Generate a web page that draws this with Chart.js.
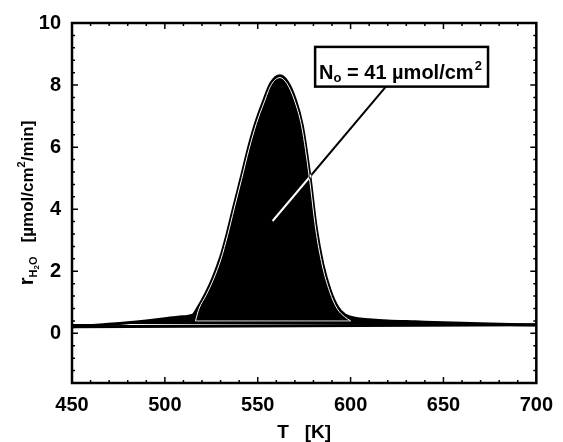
<!DOCTYPE html>
<html>
<head>
<meta charset="utf-8">
<script src="https://cdn.jsdelivr.net/npm/chart.js@4"></script>
<style>
body{margin:0;background:#fff;}
canvas{display:block;}
</style>
</head>
<body>
<canvas id="tpdChart" width="563" height="442"></canvas>
<script>
// measured water formation rate (outer black curve)
const temps = [450, 465, 480, 490, 500, 508, 515, 518, 522, 526, 530, 533.5, 537, 541, 545, 549, 553, 557, 562, 566, 570, 574, 578, 581.5, 585, 589, 593, 597, 603, 610, 620, 635, 650, 675, 700];
const rate = [0.21, 0.27, 0.34, 0.40, 0.47, 0.53, 0.59, 0.85, 1.28, 1.8, 2.45, 3.2, 4.05, 5.0, 5.97, 6.8, 7.46, 8.05, 8.3, 8.1, 7.57, 6.7, 5.1, 3.4, 2.24, 1.39, 0.85, 0.59, 0.48, 0.44, 0.4, 0.37, 0.34, 0.3, 0.27];

// fitted curve (thin white line just inside the peak outline)
const fitTemps = [516.5, 518.3, 522.3, 526.3, 530.3, 533.8, 537.3, 541.3, 545.3, 549.3, 553.3, 557.3, 562, 565.7, 569.7, 573.7, 577.7, 581.2, 584.7, 588.7, 592.7, 596.7, 600];
const fitRate = [0.4, 0.78, 1.24, 1.76, 2.41, 3.16, 4.01, 4.96, 5.93, 6.76, 7.42, 8.01, 8.24, 8.05, 7.52, 6.65, 5.06, 3.36, 2.2, 1.35, 0.8, 0.54, 0.4];
const fitBaseTemps = [516.5, 600];
const fitBaseRate = [0.4, 0.4];

// background line
const baseTemps = [450, 700];
const baseRate = [0.21, 0.28];

const xTicks = [450, 500, 550, 600, 650, 700];
const yTicks = [0, 2, 4, 6, 8, 10];

// annotation
const noteText = "41 \u00b5mol/cm";
const noteBox = {x1: 580.9, x2: 674, y1: 9.23, y2: 7.95};
const noteLine = {x1: 619, y1: 7.95, x2: 558, y2: 3.62};

function pts(xs, ys){
return xs.map((x,i) => ({x:x, y:ys[i]}));
}

const FONT = "'Liberation Sans', Arial, sans-serif";

const whiteBg = {
id:"whiteBg",
beforeDraw(chart){
const ctx = chart.ctx;
ctx.save();
ctx.fillStyle = "#fff";
ctx.fillRect(0,0,chart.width,chart.height);
ctx.restore();
}
};

const framePlugin = {
id:"frame",
afterDraw(chart){
const ctx = chart.ctx;
const a = chart.chartArea;
const xs = chart.scales.x;
const ys = chart.scales.y;

ctx.save();
ctx.strokeStyle = "#000";

// tick marks, inward on all four sides
ctx.lineWidth = 1.5;
for(let t=450;t<=700;t+=10){
const px = xs.getPixelForValue(t);
const len = (t % 50 === 0) ? 6 : 3;
ctx.beginPath();
ctx.moveTo(px,a.bottom); ctx.lineTo(px,a.bottom-len);
ctx.moveTo(px,a.top); ctx.lineTo(px,a.top+len);
ctx.stroke();
}
for(let k=-4;k<=25;k++){
const v = k*0.4;
const py = ys.getPixelForValue(v);
const len = (k % 5 === 0) ? 6 : 3;
ctx.beginPath();
ctx.moveTo(a.left,py); ctx.lineTo(a.left+len,py);
ctx.moveTo(a.right,py); ctx.lineTo(a.right-len,py);
ctx.stroke();
}

// frame
ctx.lineWidth = 2.5;
ctx.strokeRect(a.left,a.top,a.right-a.left,a.bottom-a.top);

// leader line: black on white, white on black
ctx.globalCompositeOperation = "difference";
ctx.strokeStyle = "#fff";
ctx.lineWidth = 2;
ctx.beginPath();
ctx.moveTo(xs.getPixelForValue(noteLine.x1), ys.getPixelForValue(noteLine.y1));
ctx.lineTo(xs.getPixelForValue(noteLine.x2), ys.getPixelForValue(noteLine.y2));
ctx.stroke();
ctx.globalCompositeOperation = "source-over";

// annotation box
const bx = xs.getPixelForValue(noteBox.x1);
const bx2 = xs.getPixelForValue(noteBox.x2);
const by = ys.getPixelForValue(noteBox.y1);
const by2 = ys.getPixelForValue(noteBox.y2);
ctx.fillStyle = "#fff";
ctx.fillRect(bx,by,bx2-bx,by2-by);
ctx.strokeStyle = "#000";
ctx.lineWidth = 2.5;
ctx.strokeRect(bx,by,bx2-bx,by2-by);

ctx.fillStyle = "#000";
ctx.textBaseline = "alphabetic";
let tx = bx + 4;
const base = by2 - 8;
ctx.font = "bold 20px " + FONT;
ctx.fillText("N",tx,base); tx += ctx.measureText("N").width;
ctx.font = "bold 13px " + FONT;
ctx.fillText("o",tx,base+3); tx += ctx.measureText("o").width;
ctx.font = "bold 20px " + FONT;
const mid = " = " + noteText;
ctx.fillText(mid,tx,base); tx += ctx.measureText(mid).width;
ctx.font = "bold 13px " + FONT;
ctx.fillText("2",tx+1,base-9);

// x title
ctx.font = "bold 19px " + FONT;
ctx.textAlign = "center";
ctx.fillText("T   [K]",(a.left+a.right)/2,438);

// y title, rotated
const parts = [
{t:"r",s:20,dy:0},
{t:"H",s:11,dy:4},
{t:"2",s:8,dy:6},
{t:"O",s:11,dy:4},
{t:"   [\u00b5mol/cm",s:17,dy:0},
{t:"2",s:11,dy:-8},
{t:"/min]",s:17,dy:0}
];
ctx.textAlign = "left";
let total = 0;
parts.forEach(p => { ctx.font = "bold "+p.s+"px "+FONT; p.w = ctx.measureText(p.t).width; total += p.w; });
ctx.translate(33,(a.top+a.bottom)/2);
ctx.rotate(-Math.PI/2);
let cx = -total/2;
parts.forEach(p => {
ctx.font = "bold "+p.s+"px "+FONT;
ctx.fillText(p.t,cx,p.dy);
cx += p.w;
});

ctx.restore();
}
};

new Chart(document.getElementById("tpdChart"),{

type:"line",

data:{
datasets:[
{
label:"fit",
data:pts(fitTemps,fitRate),
borderColor:"#fff",
borderWidth:1,
pointRadius:0,
cubicInterpolationMode:"monotone",
fill:false,
order:0
},
{
label:"fit base",
data:pts(fitBaseTemps,fitBaseRate),
borderColor:"#d8d8d8",
borderWidth:1,
pointRadius:0,
fill:false,
order:1
},
{
label:"background",
data:pts(baseTemps,baseRate),
borderColor:"#000",
borderWidth:3,
pointRadius:0,
fill:false,
order:2
},
{
label:"measured",
data:pts(temps,rate),
borderColor:"#000",
backgroundColor:"#000",
borderWidth:3,
pointRadius:0,
cubicInterpolationMode:"monotone",
fill:{value:0.3},
order:3
}
]
},

options:{
responsive:false,
animation:false,
layout:{padding:{top:21,right:21,left:0,bottom:0}},
plugins:{legend:{display:false},tooltip:{enabled:false}},
scales:{
x:{
type:"linear",
min:450,
max:700,
grid:{display:false,drawTicks:false},
border:{display:false},
afterBuildTicks:s => { s.ticks = xTicks.map(v => ({value:v})); },
afterFit:s => { s.height = 59; },
ticks:{padding:10,color:"#000",font:{family:FONT,size:20,weight:"bold"},maxRotation:0}
},
y:{
type:"linear",
min:-1.6,
max:10,
grid:{display:false,drawTicks:false},
border:{display:false},
afterBuildTicks:s => { s.ticks = yTicks.map(v => ({value:v})); },
afterFit:s => { s.width = 72; },
ticks:{padding:11,color:"#000",font:{family:FONT,size:20,weight:"bold"}}
}
}
},

plugins:[whiteBg,framePlugin]

});
</script>
</body>
</html>
